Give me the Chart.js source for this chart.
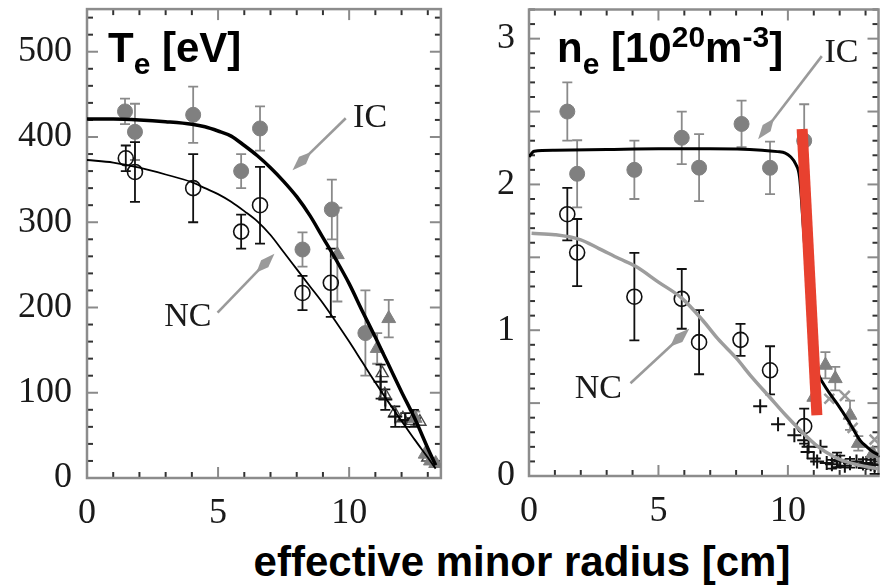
<!DOCTYPE html>
<html>
<head>
<meta charset="utf-8">
<script src="https://cdn.jsdelivr.net/npm/chart.js@4.4.1/dist/chart.umd.min.js"></script>
<style>
  html, body { margin: 0; padding: 0; background: #fff; width: 888px; height: 588px; overflow: hidden; }
  #wrap { position: relative; width: 888px; height: 588px; }
  canvas { position: absolute; top: 0; }
  #cTe { left: 0; }
  #cNe { left: 450px; }
  .ttl { position: absolute; font-family: "Liberation Sans", Arial, sans-serif; font-weight: bold;
         font-size: 42px; line-height: 48px; white-space: nowrap; color: #000; }
  .ttl .sb { font-size: 30px; position: relative; top: 12px; }
  .ttl .sp { font-size: 30px; position: relative; top: -15px; }
  #tTe { left: 108px; top: 24px; }
  #tNe { left: 557px; top: 24px; }
  #xTitle { left: 522px; top: 538px; transform: translateX(-50%); }
</style>
</head>
<body>
<div id="wrap">
  <canvas id="cTe" width="450" height="530"></canvas>
  <canvas id="cNe" width="438" height="530"></canvas>
  <div class="ttl" id="tTe">T<span class="sb">e</span> [eV]</div>
  <div class="ttl" id="tNe">n<span class="sb">e</span> [10<span class="sp">20</span>m<span class="sp">-3</span>]</div>
  <div class="ttl" id="xTitle">effective minor radius [cm]</div>
</div>
<script>
// ---- axis ticks ----
const R_MAX = 13.5;
const xTicks = [0, 5, 10];
const teTicks = [0, 100, 200, 300, 400, 500];
const neTicks = [0, 1, 2, 3];

// ---- electron temperature (eV) ----
const teFitR  = [0, 1, 2, 3, 4, 4.5, 5, 5.5, 6, 6.5, 7, 7.5, 8, 8.5, 9, 9.5, 10, 10.5, 11, 11.5, 12, 12.5, 13, 13.3];
const teIcFit = [421, 421, 420, 418, 415, 412, 407, 401, 390, 378, 364, 348, 330, 308, 282, 256, 228, 196, 165, 133, 101, 70, 35, 15];
const teNcFit = [373, 370, 364, 356, 347, 340, 333, 324, 313, 301, 285, 265, 245, 225, 205, 183, 160, 136, 112, 89, 67, 45, 24, 11];

const teIcR   = [1.45, 1.83, 4.05, 5.88, 6.6, 8.22, 9.34, 10.62];
const teIcV   = [430, 406, 426, 360, 410, 268, 315, 170];
const teIcErr = [15, 33, 33, 20, 26, 20, 35, 50];

const teIcTriR   = [9.55, 11.07, 11.51, 12.52, 12.9, 13.1, 13.3];
const teIcTriV   = [262, 152, 187, 70, 28, 20, 17];
const teIcTriErr = [55, 18, 22, 8, 0, 0, 0];

const teNcR   = [1.48, 1.83, 4.05, 5.88, 6.6, 8.22, 9.3];
const teNcV   = [375, 359, 340, 289, 320, 217, 229];
const teNcErr = [15, 35, 40, 20, 45, 20, 40];

const teNcCrossR   = [11.2, 11.38, 11.76, 12.14, 12.47];
const teNcCrossV   = [113, 92, 72, 68, 70];
const teNcCrossErr = [20, 12, 12, 8, 10];

const teNcTriR = [11.26, 11.36, 11.73, 12.05, 12.4, 12.7, 13.0];
const teNcTriV = [123, 98, 76, 70, 67, 66, 24];

// ---- electron density (1e20 m^-3) ----
const neIcFitR = [0, 0.2, 1, 3, 5, 7, 9, 9.6, 9.9, 10.1, 10.3, 10.45, 10.6, 10.8, 10.95, 11.1, 11.25, 11.33, 11.6, 11.9, 12.15, 12.4, 12.78, 13.05, 13.28, 13.5];
const neIcFit  = [2.19, 2.228, 2.235, 2.24, 2.245, 2.245, 2.235, 2.225, 2.215, 2.19, 2.14, 2.05, 1.7, 1.2, 0.9, 0.74, 0.67, 0.645, 0.57, 0.497, 0.43, 0.36, 0.246, 0.2, 0.166, 0.145];
const neNcFitR = [0.1, 1, 2, 2.7, 3.5, 4.1, 5, 5.9, 6.7, 7.3, 8, 8.6, 9.3, 9.9, 10.5, 11.1, 11.8, 12.4, 13, 13.5];
const neNcFit  = [1.665, 1.655, 1.62, 1.56, 1.49, 1.44, 1.33, 1.22, 1.07, 0.94, 0.81, 0.68, 0.54, 0.42, 0.31, 0.21, 0.13, 0.09, 0.065, 0.05];

const neIcR   = [1.48, 1.86, 4.07, 5.9, 6.57, 8.21, 9.31, 10.63];
const neIcV   = [2.50, 2.073, 2.10, 2.32, 2.115, 2.415, 2.114, 2.30];
const neIcErr = [0.2, 0.23, 0.2, 0.18, 0.23, 0.16, 0.18, 0.25];

const neNcR   = [1.48, 1.86, 4.07, 5.9, 6.57, 8.17, 9.31, 10.63];
const neNcV   = [1.796, 1.533, 1.23, 1.215, 0.918, 0.934, 0.725, 0.342];
const neNcErr = [0.18, 0.23, 0.3, 0.205, 0.22, 0.11, 0.165, 0.12];

const neCrossR   = [8.93, 9.62, 10.25, 10.63, 10.8, 10.76, 11.0, 11.13, 11.26, 11.5, 11.7, 11.9, 12.02, 12.2, 12.4, 12.65, 12.9, 13.03, 13.2, 13.35];
const neCrossV   = [0.478, 0.355, 0.28, 0.245, 0.2, 0.165, 0.12, 0.1, 0.2, 0.09, 0.08, 0.11, 0.1, 0.07, 0.088, 0.1, 0.085, 0.09, 0.08, 0.075];
const neCrossErr = [0, 0, 0, 0, 0, 0, 0, 0, 0, 0, 0.03, 0.05, 0.04, 0, 0.03, 0, 0.03, 0, 0.03, 0.06];

const neIcTriR   = [11.0, 11.45, 11.83, 12.4, 12.72, 13.28];
const neIcTriV   = [0.54, 0.76, 0.668, 0.417, 0.224, 0.155];
const neIcTriErr = [0, 0.09, 0.08, 0.1, 0.05, 0.04];

const neIcXR = [11.6, 12.2, 12.5, 13.35];
const neIcXV = [0.53, 0.55, 0.33, 0.25];

// pedestal marker drawn over the IC density profile
const neMarkR = [10.55, 11.12];
const neMarkV = [2.38, 0.417];

// ---- helpers ----
const pts = (r, v) => r.map((x, i) => ({ x, y: v[i] }));
const GRAY = '#808080';
const INK = '#111';

function fitLine(r, v, color, width) {
  return { data: pts(r, v), showLine: true, borderColor: color, borderWidth: width,
           pointRadius: 0, cubicInterpolationMode: 'monotone', fill: false, order: 1 };
}
function markers(r, v, o) {
  return Object.assign({ data: pts(r, v), showLine: false, pointRadius: 7.5, order: 3 }, o);
}

// inward ticks on all four sides plus the box frame
const framePlugin = {
  id: 'frame',
  beforeDatasetsDraw(chart, args, o) {
    const { ctx, chartArea: a, scales: { x, y } } = chart;
    ctx.save();
    ctx.lineWidth = 2;
    const seg = (x1, y1, x2, y2, c) => { ctx.strokeStyle = c; ctx.beginPath(); ctx.moveTo(x1, y1); ctx.lineTo(x2, y2); ctx.stroke(); };
    const nx = Math.round(R_MAX / o.xStep);
    for (let i = 0; i <= nx; i++) {
      const px = x.getPixelForValue(i * o.xStep);
      const major = i % o.xMajor === 0;
      const len = major ? 11 : 6, c = major ? '#8a8a8a' : '#333';
      seg(px, a.bottom, px, a.bottom - len, c);
      seg(px, a.top, px, a.top + len, c);
    }
    const ny = Math.floor(o.yMax / o.yStep + 1e-6);
    for (let i = 0; i <= ny; i++) {
      const py = y.getPixelForValue(i * o.yStep);
      const major = i % o.yMajor === 0;
      const len = major ? 11 : 6, c = major ? '#8a8a8a' : '#333';
      seg(a.left, py, a.left + len, py, c);
      seg(a.right, py, a.right - len, py, c);
    }
    ctx.strokeStyle = '#8c8c8c';
    ctx.lineWidth = 2.5;
    ctx.strokeRect(a.left, a.top, a.right - a.left, a.bottom - a.top);
    ctx.restore();
  }
};

// vertical error bars with caps, taken from each dataset's errors list
const errorBarPlugin = {
  id: 'errorBars',
  beforeDatasetsDraw(chart) {
    const { ctx, scales: { x, y } } = chart;
    ctx.save();
    chart.data.datasets.forEach(ds => {
      if (!ds.errors) return;
      ctx.strokeStyle = ds.errorColor;
      ctx.lineWidth = 1.8;
      ds.data.forEach((p, j) => {
        const e = ds.errors[j];
        if (!e) return;
        const px = x.getPixelForValue(p.x);
        const yt = y.getPixelForValue(p.y + e), yb = y.getPixelForValue(p.y - e);
        ctx.beginPath();
        ctx.moveTo(px, yt); ctx.lineTo(px, yb);
        ctx.moveTo(px - 5, yt); ctx.lineTo(px + 5, yt);
        ctx.moveTo(px - 5, yb); ctx.lineTo(px + 5, yb);
        ctx.stroke();
      });
    });
    ctx.restore();
  }
};

// labelled arrows pointing at the fitted profiles
const arrowPlugin = {
  id: 'arrows',
  afterDatasetsDraw(chart, args, o) {
    const { ctx, scales: { x, y } } = chart;
    ctx.save();
    (o.items || []).forEach(it => {
      const x0 = x.getPixelForValue(it.from[0]), y0 = y.getPixelForValue(it.from[1]);
      const x1 = x.getPixelForValue(it.to[0]), y1 = y.getPixelForValue(it.to[1]);
      const ang = Math.atan2(y1 - y0, x1 - x0);
      const ux = Math.cos(ang), uy = Math.sin(ang);
      ctx.strokeStyle = '#9a9a9a';
      ctx.fillStyle = '#9a9a9a';
      ctx.lineWidth = 2.6;
      ctx.beginPath();
      ctx.moveTo(x0, y0);
      ctx.lineTo(x1 - ux * 18, y1 - uy * 18);
      ctx.stroke();
      // slim spear-shaped head
      ctx.beginPath();
      ctx.moveTo(x1, y1);
      ctx.lineTo(x1 - ux * 14 - uy * 5, y1 - uy * 14 + ux * 5);
      ctx.lineTo(x1 - ux * 26, y1 - uy * 26);
      ctx.lineTo(x1 - ux * 14 + uy * 5, y1 - uy * 14 - ux * 5);
      ctx.closePath();
      ctx.fill();
      ctx.fillStyle = '#1a1a1a';
      ctx.font = '34px "Liberation Serif", "Times New Roman", serif';
      ctx.textAlign = 'center';
      ctx.textBaseline = 'middle';
      ctx.fillText(it.text, x.getPixelForValue(it.at[0]), y.getPixelForValue(it.at[1]));
    });
    ctx.restore();
  }
};

Chart.register(framePlugin, errorBarPlugin, arrowPlugin);

const tickFont = { family: '"Liberation Serif", "Times New Roman", serif', size: 36 };

function options(c) {
  return {
    responsive: false, animation: false, devicePixelRatio: 1, events: [],
    layout: { padding: { top: c.top, right: c.right, left: 0, bottom: 0 } },
    plugins: {
      legend: { display: false }, tooltip: { enabled: false },
      frame: { xStep: 1, xMajor: 5, yStep: c.yStep, yMajor: c.yMajor, yMax: c.yMax },
      arrows: { items: c.arrows }
    },
    scales: {
      x: {
        type: 'linear', min: 0, max: R_MAX,
        grid: { display: false, drawTicks: false }, border: { display: false },
        afterBuildTicks: s => { s.ticks = xTicks.map(v => ({ value: v })); },
        afterFit: s => { s.height = c.xH; s.paddingLeft = 0; s.paddingRight = 0; },
        ticks: { font: tickFont, color: '#1a1a1a', padding: 14, maxRotation: 0, autoSkip: false }
      },
      y: {
        type: 'linear', min: 0, max: c.yMax,
        grid: { display: false, drawTicks: false }, border: { display: false },
        afterBuildTicks: s => { s.ticks = c.yTicks.map(v => ({ value: v })); },
        afterFit: s => { s.width = c.yW; s.paddingTop = 0; s.paddingBottom = 0; },
        ticks: { font: tickFont, color: '#1a1a1a', padding: c.yPad, autoSkip: false }
      }
    }
  };
}

new Chart(document.getElementById('cTe'), {
  type: 'scatter',
  data: {
    datasets: [
      fitLine(teFitR, teIcFit, '#000', 3.5),
      fitLine(teFitR, teNcFit, '#000', 1.8),
      markers(teIcR, teIcV, { backgroundColor: GRAY, borderColor: GRAY, borderWidth: 1, errors: teIcErr, errorColor: '#8a8a8a' }),
      markers(teIcTriR, teIcTriV, { pointStyle: 'triangle', pointRadius: 8, backgroundColor: GRAY, borderColor: GRAY, borderWidth: 1, errors: teIcTriErr, errorColor: '#8a8a8a' }),
      markers(teNcR, teNcV, { backgroundColor: 'rgba(0,0,0,0)', borderColor: INK, borderWidth: 1.6, errors: teNcErr, errorColor: INK }),
      markers(teNcCrossR, teNcCrossV, { pointStyle: 'cross', pointRadius: 7, borderColor: INK, borderWidth: 2, errors: teNcCrossErr, errorColor: INK }),
      markers(teNcTriR, teNcTriV, { pointStyle: 'triangle', pointRadius: 7, backgroundColor: 'rgba(0,0,0,0)', borderColor: '#444', borderWidth: 1.4 })
    ]
  },
  options: options({
    top: 8, right: 7, xH: 52, yW: 87, yPad: 15, yMax: 550, yTicks: teTicks, yStep: 20, yMajor: 5,
    arrows: [
      { from: [9.87, 422], to: [7.84, 361], text: 'IC', at: [10.8, 422] },
      { from: [4.98, 194], to: [7.15, 263], text: 'NC', at: [3.85, 189] }
    ]
  })
});

new Chart(document.getElementById('cNe'), {
  type: 'scatter',
  data: {
    datasets: [
      { data: pts(neMarkR, neMarkV), showLine: true, borderColor: '#e8412f', borderWidth: 11,
        borderCapStyle: 'butt', pointRadius: 0, order: 0 },
      fitLine(neIcFitR, neIcFit, '#000', 3),
      fitLine(neNcFitR, neNcFit, '#9d9d9d', 3.5),
      markers(neIcR, neIcV, { backgroundColor: GRAY, borderColor: GRAY, borderWidth: 1, errors: neIcErr, errorColor: '#8a8a8a' }),
      markers(neIcTriR, neIcTriV, { pointStyle: 'triangle', pointRadius: 8, backgroundColor: GRAY, borderColor: GRAY, borderWidth: 1, errors: neIcTriErr, errorColor: '#8a8a8a' }),
      markers(neIcXR, neIcXV, { pointStyle: 'crossRot', pointRadius: 7, borderColor: '#9a9a9a', borderWidth: 2.5 }),
      markers(neNcR, neNcV, { backgroundColor: 'rgba(0,0,0,0)', borderColor: INK, borderWidth: 1.6, errors: neNcErr, errorColor: INK }),
      markers(neCrossR, neCrossV, { pointStyle: 'cross', pointRadius: 7, borderColor: INK, borderWidth: 2, errors: neCrossErr, errorColor: INK })
    ]
  },
  options: options({
    top: 7, right: 3, xH: 54, yW: 79, yPad: 14, yMax: 3.2, yTicks: neTicks, yStep: 0.1, yMajor: 5,
    arrows: [
      { from: [11.31, 2.88], to: [8.85, 2.31], text: 'IC', at: [12.07, 2.9] },
      { from: [3.92, 0.636], to: [6.19, 1.01], text: 'NC', at: [2.68, 0.595] }
    ]
  })
});
</script>
</body>
</html>
